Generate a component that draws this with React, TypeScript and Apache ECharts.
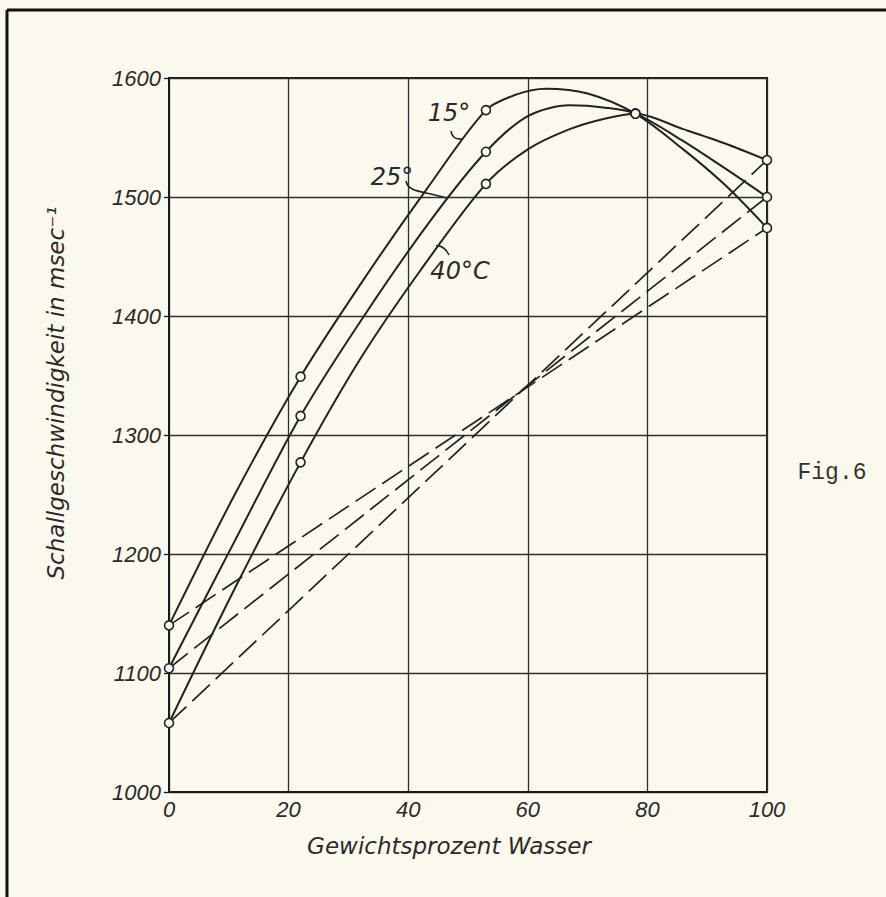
import React, { useEffect, useRef } from 'react';
import * as echarts from 'echarts';

// ---- data ----
const X_MIN = 0;
const X_MAX = 100;
const X_STEP = 20;
const Y_MIN = 1000;
const Y_MAX = 1600;
const Y_STEP = 100;

// measured points (open circles)
const measuredX = [0, 22, 53, 78, 100];
const v15Measured = [1140, 1349, 1573, 1570, 1474];
const v25Measured = [1104, 1316, 1538, 1570, 1500];
const v40Measured = [1058, 1277, 1511, 1570, 1531];

// points
const c15X = [0, 11, 22, 33, 43, 53, 58, 63, 70, 78, 86, 93, 100];
const c15Y = [1140, 1250, 1349, 1434, 1506, 1573, 1586, 1591, 1587, 1570, 1540, 1510, 1474];

const c25X = [0, 11, 22, 33, 44, 53, 60, 67, 73, 78, 86, 93, 100];
const c25Y = [1104, 1211, 1316, 1403, 1482, 1538, 1568, 1577, 1575, 1570, 1547, 1524, 1500];

const c40X = [0, 11, 22, 32, 42, 53, 60, 67, 73, 78, 86, 93, 100];
const c40Y = [1058, 1171, 1277, 1364, 1438, 1511, 1540, 1557, 1566, 1570, 1557, 1545, 1531];

const curveLabels = ['15°', '25°', '40°C'];
const xAxisTitle = 'Gewichtsprozent Wasser';
const yAxisTitle = 'Schallgeschwindigkeit in msec⁻¹';
const figLabel = 'Fig.6';

// ---- styles ----
const BG = '#fbf9ee';
const INK = '#222';
const TEXT = '#2a2a2a';

const zip = (xs: number[], ys: number[]) => xs.map((x, i) => [x, ys[i]]);

const curve = (xs: number[], ys: number[]) => ({
  type: 'line',
  data: zip(xs, ys),
  smooth: 0.3,
  symbol: 'none',
  lineStyle: { color: INK, width: 2 },
  z: 3,
});

const dashed = (ys: number[]) => ({
  type: 'line',
  data: [
    [measuredX[0], ys[0]],
    [measuredX[measuredX.length - 1], ys[ys.length - 1]],
  ],
  symbol: 'none',
  lineStyle: { color: INK, width: 1.7, type: [24, 8] },
  z: 2,
});

const markers = (ys: number[]) => ({
  type: 'scatter',
  data: zip(measuredX, ys),
  symbol: 'circle',
  symbolSize: 9,
  clip: false,
  itemStyle: { color: BG, borderColor: INK, borderWidth: 1.6, opacity: 1 },
  z: 5,
});

const labelFont = {
  fontFamily: 'DejaVu Sans',
  fontStyle: 'italic',
  fontSize: 24,
  fill: TEXT,
};

const tickLabel = {
  color: TEXT,
  fontFamily: 'Liberation Sans',
  fontStyle: 'italic',
  fontSize: 22,
  formatter: (v: number) => String(v),
};

const option = {
  animation: false,
  backgroundColor: BG,
  grid: {
    left: 169,
    top: 78,
    right: 119,
    bottom: 105,
    show: true,
    borderColor: '#1a1a1a',
    borderWidth: 2,
    backgroundColor: 'transparent',
  },
  xAxis: {
    type: 'value',
    min: X_MIN,
    max: X_MAX,
    interval: X_STEP,
    axisLine: { show: true, lineStyle: { color: '#1a1a1a', width: 2 } },
    axisTick: { show: false },
    splitLine: { show: true, lineStyle: { color: '#2e2e2e', width: 1.3 } },
    axisLabel: { ...tickLabel, margin: 6 },
  },
  yAxis: {
    type: 'value',
    min: Y_MIN,
    max: Y_MAX,
    interval: Y_STEP,
    axisLine: { show: true, lineStyle: { color: '#1a1a1a', width: 2 } },
    axisTick: { show: true, length: 5, lineStyle: { color: '#1a1a1a', width: 1.3 } },
    splitLine: { show: true, lineStyle: { color: '#2e2e2e', width: 1.3 } },
    axisLabel: { ...tickLabel, margin: 8 },
  },
  series: [
    curve(c15X, c15Y),
    curve(c25X, c25Y),
    curve(c40X, c40Y),
    dashed(v15Measured),
    dashed(v25Measured),
    dashed(v40Measured),
    markers(v15Measured),
    markers(v25Measured),
    markers(v40Measured),
  ],
  graphic: [
    // scan frame
    { type: 'line', shape: { x1: 7, y1: 10, x2: 886, y2: 10 }, style: { stroke: '#111', lineWidth: 3 } },
    { type: 'line', shape: { x1: 7, y1: 10, x2: 7, y2: 897 }, style: { stroke: '#111', lineWidth: 3 } },
    // curve labels
    {
      type: 'text', x: 449, y: 113,
      style: { ...labelFont, text: curveLabels[0], textAlign: 'center', textVerticalAlign: 'middle', align: 'center', verticalAlign: 'middle' },
    },
    {
      type: 'text', x: 392, y: 177,
      style: { ...labelFont, text: curveLabels[1], textAlign: 'center', textVerticalAlign: 'middle', align: 'center', verticalAlign: 'middle' },
    },
    {
      type: 'text', x: 460, y: 271,
      style: { ...labelFont, text: curveLabels[2], textAlign: 'center', textVerticalAlign: 'middle', align: 'center', verticalAlign: 'middle' },
    },
    // leader hooks
    {
      type: 'bezierCurve',
      shape: { x1: 451, y1: 131, cpx1: 452, cpy1: 140, x2: 463, y2: 139 },
      style: { stroke: INK, lineWidth: 1.6, fill: 'none' },
    },
    {
      type: 'bezierCurve',
      shape: { x1: 406, y1: 181, cpx1: 408, cpy1: 193, cpx2: 425, cpy2: 191, x2: 446, y2: 198 },
      style: { stroke: INK, lineWidth: 1.6, fill: 'none' },
    },
    {
      type: 'bezierCurve',
      shape: { x1: 436, y1: 246, cpx1: 444, cpy1: 245, x2: 449, y2: 255 },
      style: { stroke: INK, lineWidth: 1.6, fill: 'none' },
    },
    // axis titles
    {
      type: 'text', x: 449, y: 846,
      style: { ...labelFont, fontSize: 23, text: xAxisTitle, textAlign: 'center', textVerticalAlign: 'middle', align: 'center', verticalAlign: 'middle' },
    },
    {
      type: 'text', x: 56, y: 393, rotation: Math.PI / 2,
      style: { ...labelFont, fontSize: 23, text: yAxisTitle, textAlign: 'center', textVerticalAlign: 'middle', align: 'center', verticalAlign: 'middle' },
    },
    // figure number
    {
      type: 'text', x: 832, y: 473,
      style: {
        text: figLabel, fontFamily: 'Liberation Mono', fontSize: 23, fill: '#333',
        textAlign: 'center', textVerticalAlign: 'middle', align: 'center', verticalAlign: 'middle',
      },
    },
  ],
};

export default function App() {
  const ref = useRef<HTMLDivElement>(null);
  useEffect(() => {
    if (!ref.current) return;
    const chart = echarts.init(ref.current, null, { renderer: 'svg' });
    chart.setOption(option as any);
    return () => chart.dispose();
  }, []);
  return (
    <div
      ref={ref}
      style={{ position: 'absolute', left: 0, top: 0, width: 886, height: 897, background: BG }}
    />
  );
}
